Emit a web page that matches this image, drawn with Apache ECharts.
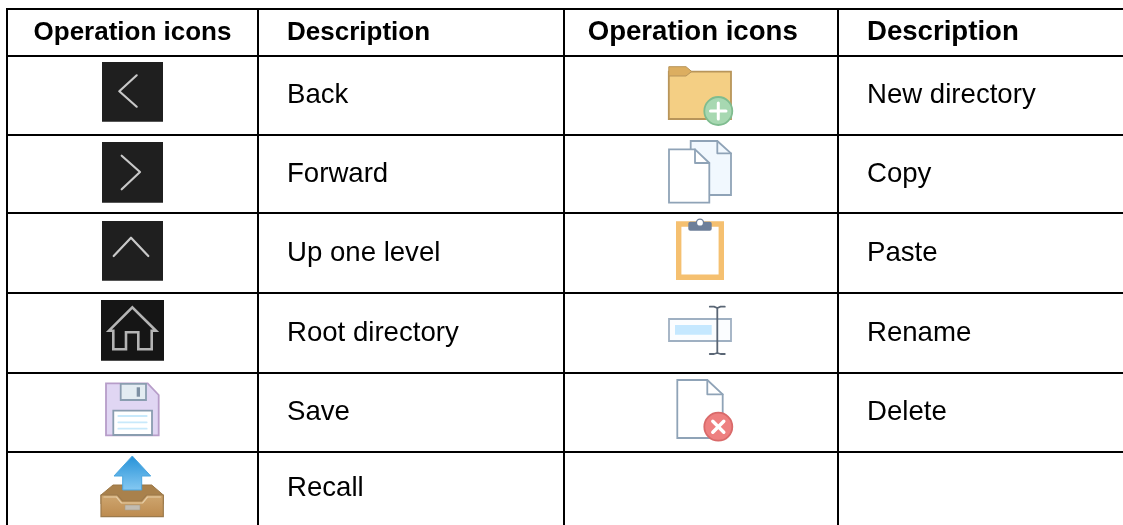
<!DOCTYPE html>
<html>
<head>
<meta charset="utf-8">
<style>html,body{margin:0;padding:0;background:#fff}#grafico{width:1123px;height:525px}</style>
<script src="https://cdn.jsdelivr.net/npm/echarts@6/dist/echarts.min.js"></script>
</head>
<body>
<div id="grafico"></div>
<script>
// table content
var headers = ['Operation icons', 'Description', 'Operation icons', 'Description'];
var leftIcons = ['back', 'forward', 'up', 'root', 'save', 'recall'];
var leftLabels = ['Back', 'Forward', 'Up one level', 'Root directory', 'Save', 'Recall'];
var rightIcons = ['folder', 'copy', 'paste', 'rename', 'delete', ''];
var rightLabels = ['New directory', 'Copy', 'Paste', 'Rename', 'Delete', ''];

// table rules, in axis units (axis runs 1:1 with the page)
var colLines = [7, 258, 564, 838];
var rowLines = [9, 56, 135, 213, 293, 373, 452, 525];
var tableRight = 1123;
var iconCenters = [132.5, 700];
var rowCenters = [95, 174, 253, 333, 412, 488];
var headerCenters = [132.5, 0, 692.7, 0];
var textX = [287, 867];

var chartDom = document.getElementById('grafico');
var myChart = echarts.init(chartDom);

function grad(top, bottom) {
    return new echarts.graphic.LinearGradient(0, 0, 0, 1, [
        { offset: 0, color: top },
        { offset: 1, color: bottom }
    ]);
}
function rect(x0, y0, x1, y1, fill, stroke, lw, r) {
    return {
        type: 'rect',
        shape: { x: x0, y: y0, width: x1 - x0, height: y1 - y0, r: r || 0 },
        style: { fill: fill || 'none', stroke: stroke || 'none', lineWidth: lw || 1 }
    };
}
function poly(points, fill, stroke, lw) {
    return {
        type: 'polygon',
        shape: { points: points },
        style: { fill: fill || 'none', stroke: stroke || 'none', lineWidth: lw || 1, lineJoin: 'miter' }
    };
}
function stroke(points, color, lw) {
    return {
        type: 'polyline',
        shape: { points: points },
        style: { fill: 'none', stroke: color, lineWidth: lw, lineCap: 'round', lineJoin: 'round' }
    };
}
function disc(x, y, r, fill, border, lw) {
    return {
        type: 'circle',
        shape: { cx: x, cy: y, r: r },
        style: { fill: fill, stroke: border, lineWidth: lw }
    };
}
// page with a folded corner, used by copy and delete
function page(x0, y0, x1, y1, nx, ny, fill) {
    var c = '#8fa3b7';
    return [
        poly([[x0, y0], [nx, y0], [x1, ny], [x1, y1], [x0, y1]], fill, c, 1.8),
        stroke([[nx, y0], [nx, ny], [x1, ny]], c, 1.8)
    ];
}

var iconShapes = {
    back: function () {
        return [
            rect(-30.5, -33, 30.5, 26.7, '#1f1f1f'),
            stroke([[4.2, -19.7], [-13.2, -3.7], [4.2, 11.7]], '#c8c8c8', 2.2)
        ];
    },
    forward: function () {
        return [
            rect(-30.5, -32, 30.5, 28.7, '#1f1f1f'),
            stroke([[-10.8, -18.3], [7.5, -2], [-10.8, 15.3]], '#c8c8c8', 2.2)
        ];
    },
    up: function () {
        return [
            rect(-30.5, -32, 30.5, 27.7, '#1f1f1f'),
            stroke([[-18.8, 3], [-1.5, -15.3], [15.8, 3]], '#c8c8c8', 2.2)
        ];
    },
    root: function () {
        return [
            rect(-31.5, -33, 31.5, 27.7, '#151515'),
            poly([[-0.2, -25.7], [-23.5, -2.3], [-19.2, -2.3], [-19.2, 16.3], [-6.5, 16.3], [-6.5, -0.7],
                [5.8, -0.7], [5.8, 16.3], [19.2, 16.3], [19.2, -2.3], [23.5, -2.3]], null, '#b4b4b4', 2.6)
        ];
    },
    save: function () {
        var edge = '#8a9db0';
        return [
            poly([[-26.5, -28.7], [15.2, -28.7], [26.2, -17], [26.2, 23.3], [-26.5, 23.3]], '#e0d6f3', '#b79dc9', 1.8),
            rect(-11.8, -28.2, 13.5, -12, '#e3ecf2', edge, 1.8),
            rect(4.2, -24.7, 7.5, -15.3, '#7d90a3'),
            rect(-19.2, -1.3, 19.5, 23, '#fff', edge, 1.8),
            stroke([[-14.2, 4], [14.2, 4]], '#c8e9fb', 1.8),
            stroke([[-14.2, 10.3], [14.2, 10.3]], '#c8e9fb', 1.8),
            stroke([[-14.2, 16.7], [14.2, 16.7]], '#c8e9fb', 1.8)
        ];
    },
    recall: function () {
        return [
            poly([[-19.5, -3], [19.2, -3], [30.8, 7], [30.8, 16], [-31.5, 16], [-31.5, 7]], '#a9814c', '#9a7645', 1),
            poly([[-0.2, -32], [18.2, -12], [9.2, -12], [9.2, 2], [-9.8, 2], [-9.8, -12], [-18.5, -12]],
                grad('#2491d8', '#86c9f2'), '#4aa5de', 1),
            poly([[-31.5, 7], [-15, 7], [-10, 13], [9, 13], [14, 7], [30.8, 7], [30.8, 28.7], [-31.5, 28.7]],
                grad('#cfa771', '#bc8a4e'), '#9c7a4c', 1.2),
            stroke([[-28.5, 9], [-16, 9], [-11, 15], [10, 15], [15, 9], [28, 9]], '#e6cda6', 1.2),
            rect(-7.5, 17, 7.5, 22, '#c2bcb2', '#a89a84', 0.6)
        ];
    },
    folder: function () {
        var edge = '#b8955a';
        return [
            rect(-31.2, -23.3, 31, 24, '#f4cf84', edge, 1.8),
            poly([[-31.2, -28.3], [-14, -28.3], [-8.3, -23.5], [-14, -19], [-31.2, -19]], '#dcae60', edge, 1),
            disc(18.3, 16, 14, '#a7d8b1', '#7fbc8f', 1.8),
            stroke([[10.5, 16], [26, 16]], '#fff', 3),
            stroke([[18.3, 8], [18.3, 24]], '#fff', 3)
        ];
    },
    copy: function () {
        return page(-9.3, -33, 31, 21, 17.3, -20.7, '#f1f8fe')
            .concat(page(-31, -24.7, 9.3, 28.7, -5, -11, '#fff'));
    },
    paste: function () {
        return [
            rect(-21.3, -29, 21.3, 24.3, '#fff', '#f5c070', 5.4),
            rect(-11.7, -31.3, 11.7, -22.3, '#6d7f99', null, 1, 2),
            disc(0, -30.3, 3.6, '#fff', '#6d7f99', 1.4)
        ];
    },
    rename: function () {
        var ink = '#5a6675';
        return [
            rect(-31, -14, 31, 8, '#fbfdff', '#9fb0c2', 1.8),
            rect(-25, -8, 11.7, 1.7, '#c5e8ff'),
            stroke([[17.3, -25], [17.3, 20]], ink, 1.8),
            stroke([[9.8, -26.3], [14, -26.3], [17.3, -25], [20.6, -26.3], [24.8, -26.3]], ink, 1.8),
            stroke([[9.8, 21], [14, 21], [17.3, 20], [20.6, 21], [24.8, 21]], ink, 1.8)
        ];
    },
    'delete': function () {
        return page(-22.7, -32, 22.7, 26, 7.3, -17.7, '#fff').concat([
            disc(18.3, 14.7, 14, '#ee8080', '#d96a6a', 1.8),
            stroke([[12.8, 9.2], [23.8, 20.2]], '#fff', 3.4),
            stroke([[23.8, 9.2], [12.8, 20.2]], '#fff', 3.4)
        ]);
    }
};

// [column, row, text], row -1 is the header
var textCells = [];
headers.forEach(function (h, i) {
    textCells.push([i, -1, h]);
});
leftLabels.forEach(function (t, i) {
    textCells.push([1, i, t]);
});
rightLabels.forEach(function (t, i) {
    if (t) textCells.push([3, i, t]);
});

// [side, row, icon name]
var iconCells = [];
leftIcons.forEach(function (n, i) {
    iconCells.push([0, i, n]);
});
rightIcons.forEach(function (n, i) {
    if (n) iconCells.push([1, i, n]);
});

var ruleCells = [];
rowLines.slice(0, 7).forEach(function (y) {
    ruleCells.push([colLines[0] - 1, y, tableRight, y]);
});
colLines.forEach(function (x) {
    ruleCells.push([x, rowLines[0] - 1, x, rowLines[7]]);
});

var option = {
    animation: false,
    grid: { left: 0, right: 0, top: 0, bottom: 0 },
    xAxis: { type: 'value', min: 0, max: 1123, show: false },
    yAxis: { type: 'value', min: 0, max: 525, inverse: true, show: false },
    series: [
        {
            type: 'custom',
            silent: true,
            data: ruleCells,
            renderItem: function (params, api) {
                var a = api.coord([api.value(0), api.value(1)]);
                var b = api.coord([api.value(2), api.value(3)]);
                return {
                    type: 'line',
                    shape: { x1: a[0], y1: a[1], x2: b[0], y2: b[1] },
                    style: { stroke: '#000', lineWidth: 2 }
                };
            }
        },
        {
            type: 'custom',
            silent: true,
            data: iconCells,
            renderItem: function (params, api) {
                var cell = iconCells[params.dataIndex];
                var c = api.coord([iconCenters[cell[0]], rowCenters[cell[1]]]);
                return {
                    type: 'group',
                    x: c[0],
                    y: c[1],
                    children: iconShapes[cell[2]]()
                };
            }
        },
        {
            type: 'custom',
            silent: true,
            data: textCells,
            renderItem: function (params, api) {
                var cell = textCells[params.dataIndex];
                var col = cell[0], row = cell[1];
                var isHead = row < 0;
                var centered = isHead && col % 2 === 0;
                var x = centered ? headerCenters[col] : textX[(col - 1) / 2];
                var y = (rowLines[row + 1] + rowLines[row + 2]) / 2;
                // left header pair is set a little smaller than the rest
                var size = isHead && col < 2 ? 26 : 27.6;
                var p = api.coord([x, y]);
                return {
                    type: 'text',
                    x: p[0],
                    y: p[1],
                    style: {
                        text: cell[2],
                        fill: '#000',
                        font: (isHead ? 'bold ' : '') + size + 'px "Liberation Sans", Arial, sans-serif',
                        textAlign: centered ? 'center' : 'left',
                        textVerticalAlign: 'middle'
                    }
                };
            }
        }
    ]
};
myChart.setOption(option);
</script>
</body>
</html>
